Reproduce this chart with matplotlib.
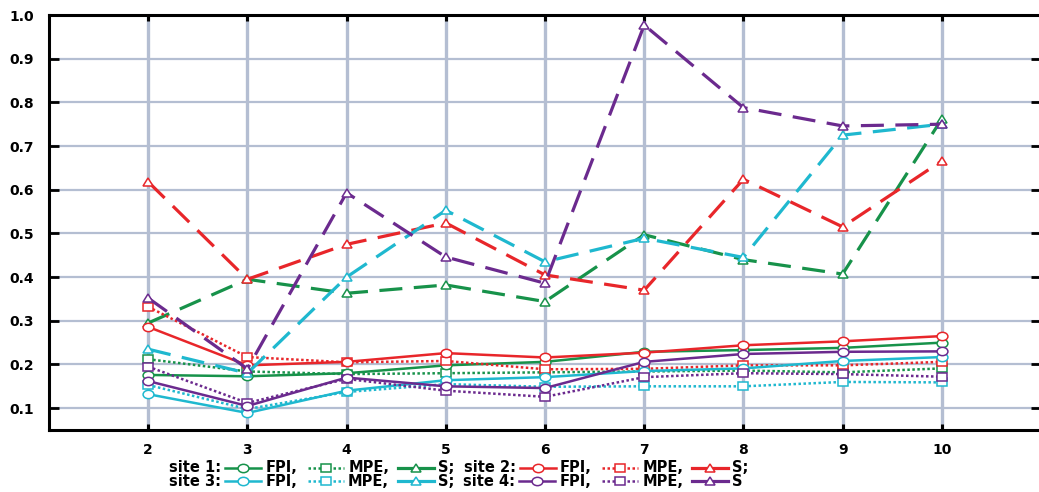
import matplotlib
matplotlib.use("Agg")
import matplotlib.pyplot as plt
from matplotlib.lines import Line2D
from matplotlib.markers import MarkerStyle
from matplotlib.transforms import Affine2D, IdentityTransform
from matplotlib.font_manager import FontProperties
from matplotlib.ticker import FixedLocator, FormatStrFormatter

W, H, DPI = 1039, 492, 100

x = [2, 3, 4, 5, 6, 7, 8, 9, 10]
y_ticks = [0.1, 0.2, 0.3, 0.4, 0.5, 0.6, 0.7, 0.8, 0.9, 1.0]

site1_fpi = [0.176, 0.173, 0.180, 0.198, 0.206, 0.229, 0.233, 0.238, 0.250]
site1_mpe = [0.212, 0.184, 0.178, 0.180, 0.182, 0.184, 0.186, 0.182, 0.191]
site1_s = [0.295, 0.395, 0.363, 0.382, 0.344, 0.497, 0.440, 0.407, 0.762]

site2_fpi = [0.286, 0.198, 0.206, 0.226, 0.216, 0.227, 0.244, 0.253, 0.265]
site2_mpe = [0.332, 0.217, 0.205, 0.208, 0.189, 0.190, 0.198, 0.198, 0.206]
site2_s = [0.618, 0.395, 0.475, 0.524, 0.405, 0.370, 0.624, 0.515, 0.666]

site3_fpi = [0.132, 0.089, 0.140, 0.164, 0.171, 0.185, 0.191, 0.208, 0.217]
site3_mpe = [0.153, 0.098, 0.137, 0.155, 0.149, 0.150, 0.150, 0.160, 0.159]
site3_s = [0.235, 0.180, 0.400, 0.553, 0.435, 0.489, 0.445, 0.725, 0.750]

site4_fpi = [0.162, 0.105, 0.170, 0.150, 0.146, 0.206, 0.224, 0.229, 0.230]
site4_mpe = [0.195, 0.112, 0.167, 0.140, 0.126, 0.171, 0.180, 0.178, 0.172]
site4_s = [0.352, 0.190, 0.593, 0.446, 0.386, 0.977, 0.788, 0.746, 0.750]

site_names = ["site 1:", "site 2:", "site 3:", "site 4:"]
site_colors = ["#17924a", "#e8262a", "#1fb8cf", "#6b2a8e"]
sites = [
    (site1_fpi, site1_mpe, site1_s),
    (site2_fpi, site2_mpe, site2_s),
    (site3_fpi, site3_mpe, site3_s),
    (site4_fpi, site4_mpe, site4_s),
]

GRID = "#b4bed2"


def mk(m):
    # markers in the reference are a bit wider than tall
    return MarkerStyle(m, transform=Affine2D().scale(1.3, 1.0))


STYLES = {
    "fpi": dict(linestyle="-", lw=1.8, marker="o"),
    "mpe": dict(linestyle=(0, (1, 1)), lw=1.8, marker="s"),
    "s": dict(linestyle=(0, (7.2, 3.6)), lw=2.3, marker="^"),
}

fig = plt.figure(figsize=(W / DPI, H / DPI), dpi=DPI)
ax = fig.add_axes([49 / W, 62 / H, (1041 - 49) / W, (477 - 62) / H])

for (fpi, mpe, s), col in zip(sites, site_colors):
    for key, vals in (("s", s), ("mpe", mpe), ("fpi", fpi)):
        st = STYLES[key]
        ax.plot(x, vals, color=col, linestyle=st["linestyle"], lw=st["lw"],
                marker=mk(st["marker"]), markersize=6, markerfacecolor="white",
                markeredgecolor=col, markeredgewidth=1.1, zorder=3)

ax.set_xlim(1, 11)
ax.set_ylim(0.05, 1.0)
ax.xaxis.set_major_locator(FixedLocator(x))
ax.yaxis.set_major_locator(FixedLocator(y_ticks))
ax.yaxis.set_major_formatter(FormatStrFormatter("%.1f"))

ax.grid(axis="x", color=GRID, lw=2.4, zorder=0)
ax.grid(axis="y", color=GRID, lw=1.6, zorder=0)
ax.set_axisbelow(True)

for side in ["left", "top", "bottom", "right"]:
    ax.spines[side].set_linewidth(2.2)
    ax.spines[side].set_color("black")

ax.tick_params(axis="y", which="major", direction="in", length=7, width=2,
               left=True, right=True, pad=11, labelsize=10)
ax.tick_params(axis="x", which="major", direction="in", length=4, width=2.2,
               top=True, bottom=True, pad=9, labelsize=10)
for lab in ax.get_xticklabels() + ax.get_yticklabels():
    lab.set_fontweight("bold")
    lab.set_family("DejaVu Sans")

# custom two-row legend under the axes
fp = FontProperties(family="DejaVu Sans", weight="bold", size=10.5)
renderer = fig.canvas.get_renderer()
HANDLE_LEN = 36


def text_w(s):
    w, h, d = renderer.get_text_width_height_descent(s, fp, ismath=False)
    return w


def row_items(i, j, last):
    items = []
    for k, end in ((i, ";"), (j, last)):
        items.append(("t", site_names[k], 4))
        items.append(("h", k, "fpi", 4))
        items.append(("t", "FPI,", 11))
        items.append(("h", k, "mpe", 4))
        items.append(("t", "MPE,", 9))
        items.append(("h", k, "s", 4))
        items.append(("t", "S" + end, 9))
    return items


def row_width(items):
    tot = 0
    for it in items:
        tot += (text_w(it[1]) if it[0] == "t" else HANDLE_LEN) + it[-1]
    return tot - items[-1][-1]


rows = [(row_items(0, 1, ";"), 492 - 468), (row_items(2, 3, ""), 492 - 481)]
start = 459 - row_width(rows[0][0]) / 2

for items, yy in rows:
    xx = start
    for it in items:
        if it[0] == "t":
            fig.text(xx / W, yy / H, it[1], fontproperties=fp, va="center", ha="left")
            xx += text_w(it[1]) + it[2]
        else:
            k, key = it[1], it[2]
            col = site_colors[k]
            st = STYLES[key]
            ls = st["linestyle"] if key == "mpe" else "-"
            fig.add_artist(Line2D([xx, xx + HANDLE_LEN], [yy, yy], color=col, lw=st["lw"],
                                  linestyle=ls, transform=IdentityTransform()))
            fig.add_artist(Line2D([xx + HANDLE_LEN / 2], [yy], color=col, linestyle="none",
                                  marker=mk(st["marker"]), markersize=6,
                                  markerfacecolor="white", markeredgecolor=col,
                                  markeredgewidth=1.1, transform=IdentityTransform()))
            xx += HANDLE_LEN + it[3]

fig.savefig("out.png", dpi=DPI)
